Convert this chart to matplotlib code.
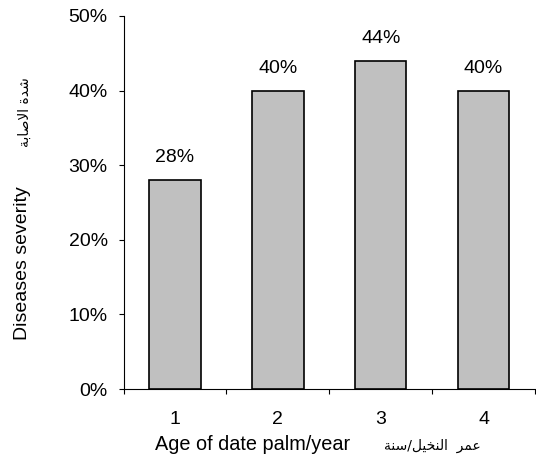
import matplotlib
matplotlib.use("Agg")
import matplotlib.pyplot as plt
import numpy as np

categories = ["1", "2", "3", "4"]
severity = [0.28, 0.40, 0.44, 0.40]
value_labels = ["28%", "40%", "44%", "40%"]
ytick_vals = [0.0, 0.1, 0.2, 0.3, 0.4, 0.5]
ytick_labels = ["0%", "10%", "20%", "30%", "40%", "50%"]

xlabel_en = "Age of date palm/year"
# Arabic in visual (left-to-right) order using presentation forms, since matplotlib does no shaping
xlabel_ar = "\uFE94\uFEE8\uFEB3/\uFEDE\uFEF4\uFEA8\uFEE8\uFEDF\uFE8D  \uFEAE\uFEE4\uFECB"
ylabel_en = "Diseases severity"
ylabel_ar = "\uFE94\uFE91\uFE8E\uFEBB\uFEFB\uFE8D \uFE93\uFEAA\uFEB7"

plt.rcParams['font.family'] = ['Liberation Sans', 'DejaVu Sans']

fig = plt.figure(figsize=(5.36, 4.66), dpi=100)
ax = fig.add_axes([123.5/536, 1-389/466, (535-123.5)/536, (389-16)/466])

x = np.arange(1, len(categories)+1)
ax.bar(x, severity, width=0.5, color="#C0C0C0", edgecolor="black", linewidth=1.2, zorder=3)

for xi, v, lab in zip(x, severity, value_labels):
    ax.annotate(lab, (xi, v), xytext=(0, 13), textcoords="offset points",
                ha="center", va="baseline", fontsize=14)

ax.set_xlim(0.5, len(categories)+0.5)
ax.set_ylim(0, 0.5)
ax.set_yticks(ytick_vals)
ax.set_yticklabels(ytick_labels, fontsize=14)
ax.set_xticks(x)
ax.set_xticklabels(categories, fontsize=14)
ax.set_xticks(np.arange(0.5, len(categories)+1, 1.0), minor=True)
ax.tick_params(axis="x", which="major", length=0, pad=16)
ax.tick_params(axis="x", which="minor", length=3.6, width=0.8, direction="out")
ax.tick_params(axis="y", which="major", length=3.4, width=0.8, direction="out", pad=8)

for s in ["top", "right"]:
    ax.spines[s].set_visible(False)
for s in ["left", "bottom"]:
    ax.spines[s].set_linewidth(0.8)

fig.text(155/536, 1-450/466, xlabel_en, ha="left", va="baseline", fontsize=14.3)
fig.text(432/536, 1-450/466, xlabel_ar, ha="center", va="baseline", fontsize=10,
         family=['DejaVu Sans'])
fig.text(23/536, 1-263/466, ylabel_en, ha="center", va="center", rotation=90, fontsize=14)
fig.text(25/536, 1-112/466, ylabel_ar, ha="center", va="center", rotation=90, fontsize=10,
         family=['DejaVu Sans'])

fig.savefig("out.png", dpi=100)
